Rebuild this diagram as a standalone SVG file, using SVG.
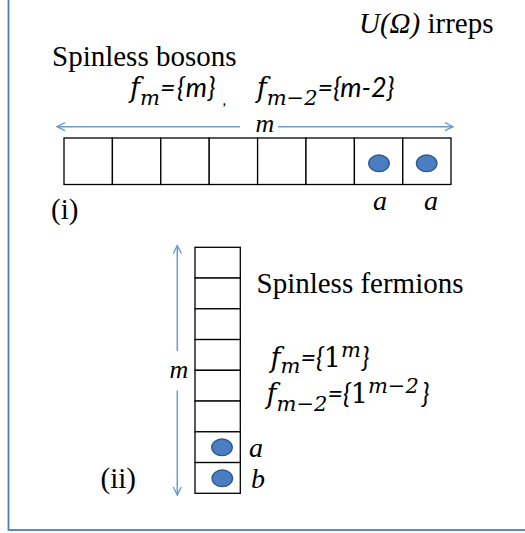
<svg xmlns="http://www.w3.org/2000/svg" width="525" height="533" viewBox="0 0 525 533">
<style>
.t{font-family:"Liberation Serif",serif;fill:#000}
.i{font-style:italic}
.mt{font-family:"DejaVu Serif",serif;fill:#000}
.c{font-family:Lato,"Open Sans",sans-serif;font-style:italic;fill:#000}
.cell{fill:#fff;stroke:#000;stroke-width:1.3}
.dot{fill:#4A7EC0;stroke:#2F5597;stroke-width:1.3}
.ar{stroke:#6A9BD3;stroke-width:1.5;fill:none}
.f{font-size:27px}
.s{font-size:21px}
.e{font-size:27px}
.w{letter-spacing:1.5px}
</style>
<defs>
<marker id="ah" viewBox="0 0 10 10" refX="9" refY="5" markerWidth="10" markerHeight="10" markerUnits="userSpaceOnUse" orient="auto">
<path d="M1,1 L9,5 L1,9" fill="none" stroke="#6A9BD3" stroke-width="1.4"/>
</marker>
</defs>
<rect x="8.5" y="-10" width="530" height="540" fill="#fff" stroke="#4A7EBB" stroke-width="1.8"/>
<text class="t" x="359" y="33" font-size="29"><tspan class="i">U(Ω)</tspan> irreps</text>
<g id="bosons">
<text class="t" x="52" y="65.5" font-size="29">Spinless bosons</text>
<text x="130" y="97"><tspan class="mt i f">f</tspan><tspan class="mt i s" dy="8">m</tspan><tspan class="c e w" dy="-8">={m}</tspan></text>
<text class="c" x="223" y="105" font-size="16">,</text>
<text x="256.7" y="97"><tspan class="mt i f">f</tspan><tspan class="mt i s" dy="8">m−2</tspan><tspan class="c e" dy="-8">={m-2}</tspan></text>
<g id="row">
<rect class="cell" x="64" y="138" width="48.4" height="46.5"/>
<rect class="cell" x="112.4" y="138" width="48.4" height="46.5"/>
<rect class="cell" x="160.8" y="138" width="48.4" height="46.5"/>
<rect class="cell" x="209.2" y="138" width="48.4" height="46.5"/>
<rect class="cell" x="257.6" y="138" width="48.4" height="46.5"/>
<rect class="cell" x="306" y="138" width="48.4" height="46.5"/>
<rect class="cell" x="354.4" y="138" width="48.4" height="46.5"/>
<rect class="cell" x="402.8" y="138" width="48.2" height="46.5"/>
<ellipse class="dot" cx="379" cy="163.3" rx="10.3" ry="8.3"/>
<ellipse class="dot" cx="426.7" cy="163.3" rx="10.3" ry="8.3"/>
</g>
<text class="t i" x="265" y="131.5" font-size="26" text-anchor="middle">m</text>
<text class="t i" x="380" y="210" font-size="28" text-anchor="middle">a</text>
<text class="t i" x="431" y="210" font-size="28" text-anchor="middle">a</text>
<text class="t" x="51" y="219" font-size="29">(i)</text>
</g>
<g id="fermions">
<rect class="cell" x="195" y="247.3" width="45.3" height="30.75"/>
<rect class="cell" x="195" y="278.05" width="45.3" height="30.75"/>
<rect class="cell" x="195" y="308.8" width="45.3" height="30.75"/>
<rect class="cell" x="195" y="339.55" width="45.3" height="30.75"/>
<rect class="cell" x="195" y="370.3" width="45.3" height="30.75"/>
<rect class="cell" x="195" y="401.05" width="45.3" height="30.75"/>
<rect class="cell" x="195" y="431.8" width="45.3" height="30.75"/>
<rect class="cell" x="195" y="462.55" width="45.3" height="30.75"/>
<ellipse class="dot" cx="222" cy="447.3" rx="10.3" ry="8.3"/>
<ellipse class="dot" cx="222.3" cy="478.3" rx="10.3" ry="8.3"/>
<text class="t" x="256.5" y="293.3" font-size="29">Spinless fermions</text>
<text class="t i" x="179" y="378.3" font-size="26" text-anchor="middle">m</text>
<text class="t i" x="249" y="456.7" font-size="28">a</text>
<text class="t i" x="251" y="487.7" font-size="28">b</text>
<text class="t" x="100.5" y="488" font-size="29">(ii)</text>
<text x="270.5" y="366.5"><tspan class="mt i f">f</tspan><tspan class="mt i s" dy="6">m</tspan><tspan class="c e" dy="-6">={</tspan><tspan class="mt f">1</tspan><tspan class="mt i s" dy="-10">m</tspan><tspan class="c e" dx="1" dy="10">}</tspan></text>
<text x="266.5" y="403.3"><tspan class="mt i f">f</tspan><tspan class="mt i s" dy="8">m−2</tspan><tspan class="c e" dy="-8">={</tspan><tspan class="mt f">1</tspan><tspan class="mt i s" dy="-10">m−2</tspan><tspan class="c e" dx="3" dy="10">}</tspan></text>
</g>
<g id="connectors">
<line class="ar" x1="240" y1="126.7" x2="57" y2="126.7" marker-end="url(#ah)"/>
<line class="ar" x1="278" y1="126.7" x2="453" y2="126.7" marker-end="url(#ah)"/>
<line class="ar" x1="177.3" y1="351" x2="177.3" y2="245.5" marker-end="url(#ah)"/>
<line class="ar" x1="177.3" y1="390.5" x2="177.3" y2="495" marker-end="url(#ah)"/>
</g>
</svg>
